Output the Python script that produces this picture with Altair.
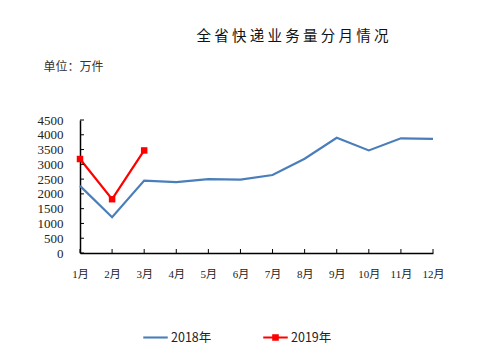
import altair as alt
import pandas as pd

months = ["1月", "2月", "3月", "4月", "5月", "6月", "7月", "8月", "9月", "10月", "11月", "12月"]
v2018 = [2270, 1210, 2450, 2400, 2500, 2480, 2640, 3190, 3900, 3470, 3880, 3860]
v2019 = [3180, 1820, 3470]
yticks = [0, 500, 1000, 1500, 2000, 2500, 3000, 3500, 4000, 4500]
series_names = ["2018年", "2019年"]
colors = ["#4A7EBB", "#FF0000"]

rows = [{"month": m, "value": v, "series": "2018年"} for m, v in zip(months, v2018)]
rows += [{"month": m, "value": v, "series": "2019年"} for m, v in zip(months, v2019)]
df = pd.DataFrame(rows)
df_ticks = pd.DataFrame({"value": yticks})
df_months = pd.DataFrame({"month": months})

W, H = 353, 133
serif = "'Liberation Serif', 'Noto Sans CJK SC'"
cjk = "'Noto Sans CJK SC'"

x_axis = alt.Axis(title=None, labelAngle=0, tickSize=0, labelPadding=15,
                  labelFont=serif, labelFontSize=11, labelColor="#222",
                  labelAlign="center", labelFlush=False, labelOverlap=False,
                  domainColor="#000", domainWidth=1.5)
y_axis = alt.Axis(values=yticks, format="d", grid=False, tickSize=0, labelPadding=17,
                  labelFont=serif, labelFontSize=13, labelColor="#222",
                  labelFlush=False, labelOverlap=False, labelBound=False,
                  domainColor="#000", domainWidth=1.5,
                  title="单位：万件", titleAngle=0, titleAlign="left",
                  titleBaseline="middle", titleX=-37, titleY=-54,
                  titleFont=cjk, titleFontSize=12, titleFontWeight="normal",
                  titleColor="#333")
x_scale = alt.Scale(type="point", padding=0, domain=months)
y_scale = alt.Scale(domain=[0, 4500], nice=False, zero=True)


def X(field="month:N"):
    return alt.X(field, sort=months, scale=x_scale, axis=x_axis)


def Y(field="value:Q"):
    return alt.Y(field, scale=y_scale, axis=y_axis)


color_scale = alt.Scale(domain=series_names, range=colors)
shape_scale = alt.Scale(domain=series_names,
                        range=["M-1,-0.085H1V0.085H-1Z",
                               "M-1,-0.085H-0.27V-0.27H0.27V-0.085H1V0.085H0.27V0.27H-0.27V0.085H-1Z"])

legend_def = alt.Legend(title=None, orient="none", legendX=63, legendY=205,
                        direction="horizontal", symbolSize=600,
                        symbolOpacity=1, labelFont=cjk, labelFontSize=12.5,
                        labelColor="#222", labelOffset=3, columnPadding=51,
                        padding=0, symbolStrokeWidth=0)

lines = alt.Chart(df).mark_line(strokeWidth=2.2).encode(
    x=X(), y=Y(),
    color=alt.Color("series:N", scale=color_scale, legend=legend_def),
)

points = alt.Chart(df[df.series == "2019年"]).mark_point(filled=True, shape="square", size=42, opacity=1).encode(
    x=X(), y=Y(),
    color=alt.Color("series:N", scale=color_scale, legend=legend_def),
)

legend_layer = alt.Chart(df).mark_point(filled=True, opacity=0).encode(
    x=X(), y=Y(),
    shape=alt.Shape("series:N", scale=shape_scale, legend=legend_def),
    color=alt.Color("series:N", scale=color_scale, legend=legend_def),
)

ytick_rules = alt.Chart(df_ticks).mark_rule(color="#000", strokeWidth=1).encode(
    y=Y(), x=alt.value(0), x2=alt.value(4))
xtick_rules = alt.Chart(df_months).mark_rule(color="#000", strokeWidth=1).encode(
    x=X(), y=alt.value(H - 4), y2=alt.value(H))

chart = alt.layer(lines, ytick_rules, xtick_rules, points, legend_layer).properties(
    width=W, height=H,
    autosize=alt.AutoSizeParams(type="none"),
    padding={"left": 80, "top": 120, "right": 67, "bottom": 101},
    title=alt.TitleParams(" ".join("全省快递业务量分月情况"), anchor="middle", dx=36,
                          offset=16, font=cjk, fontSize=14.5, fontWeight="normal",
                          color="#111"),
).configure_view(stroke=None).configure_axis(labelOverlap=False)

chart.save("out.html", embed_options={"renderer": "svg", "actions": False})
